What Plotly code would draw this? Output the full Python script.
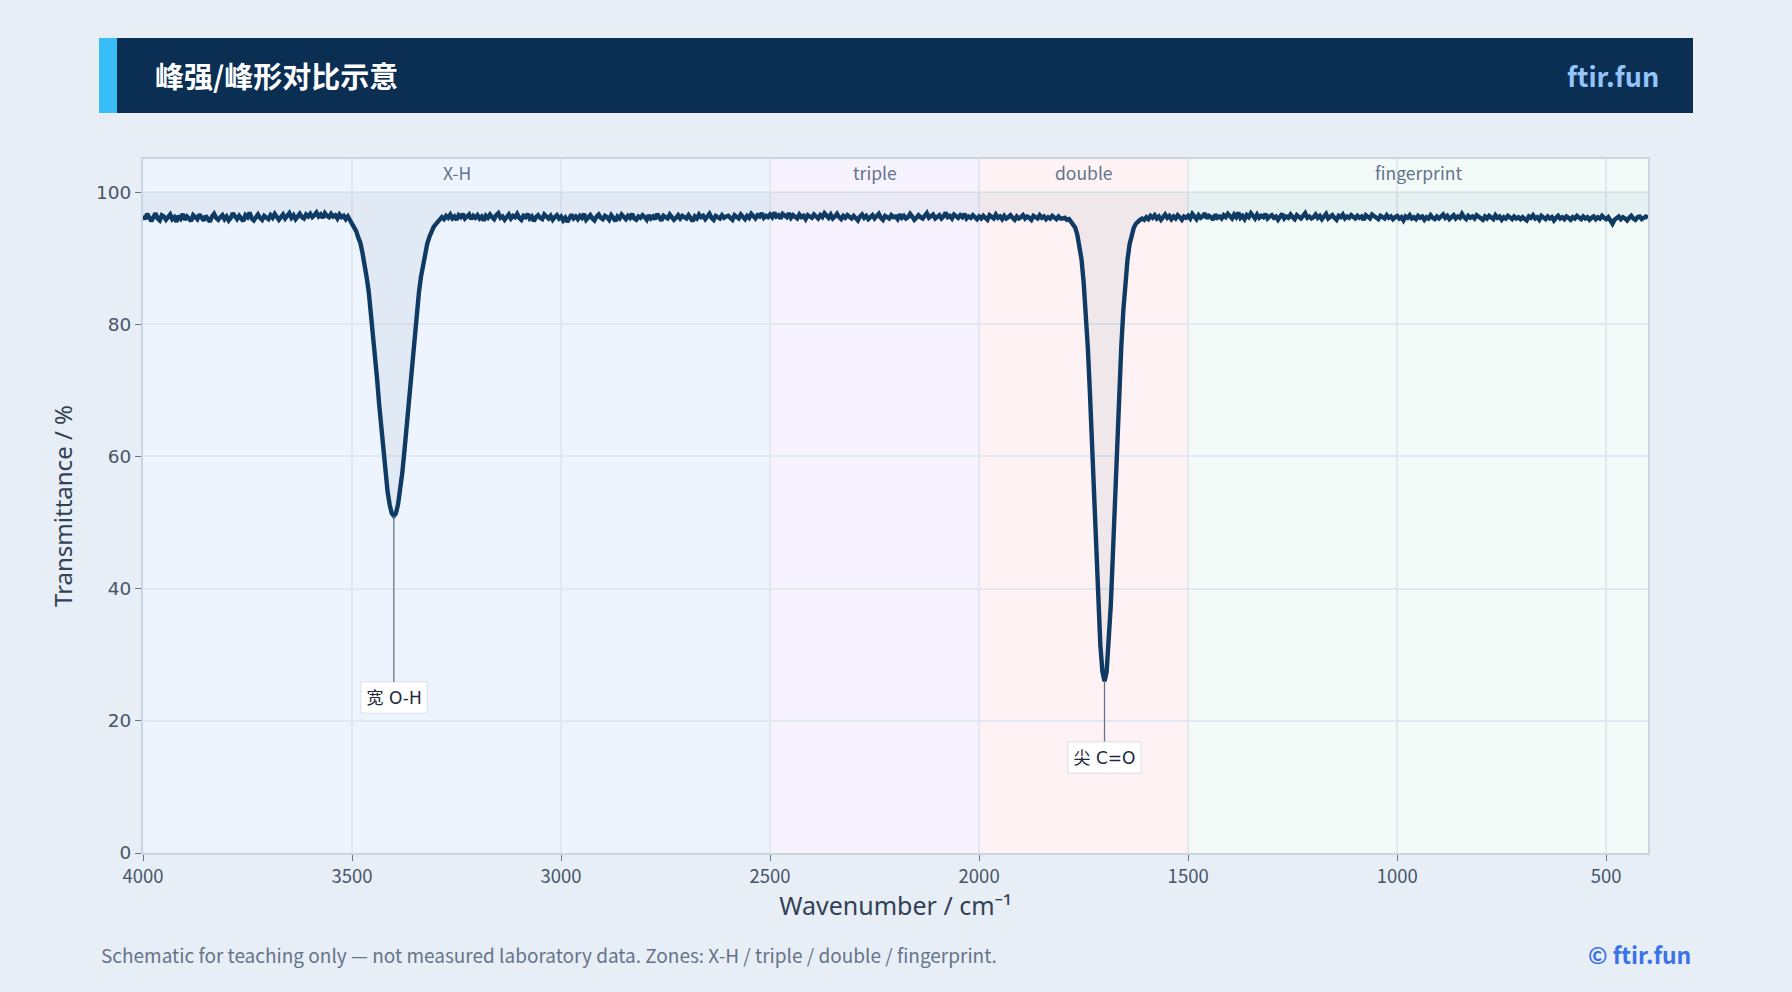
import numpy as np
import plotly.graph_objects as go

# ---------------- data ----------------
WAVENUMBER = np.arange(4000, 399, -5)  # 4000 ... 400 cm^-1, step 5

# transmittance, one block of 20 points per 100 cm^-1
T_BLOCKS = [
    # 4000-3905
    [96.4, 95.9, 96.7, 96.1, 95.6, 96.2, 96.8, 96.0, 95.7, 96.5, 96.3, 95.8, 96.1, 96.6, 95.9, 96.2, 95.5, 96.4, 96.0, 96.7],
    # 3900-3805
    [95.8, 96.3, 96.0, 95.6, 96.5, 96.2, 95.9, 96.6, 96.1, 95.7, 96.4, 96.0, 95.5, 96.3, 96.7, 96.1, 95.8, 96.2, 96.5, 95.9],
    # 3800-3705
    [96.3, 95.7, 96.1, 96.8, 96.2, 95.9, 96.4, 96.0, 95.6, 96.5, 96.2, 96.9, 96.0, 95.7, 96.3, 96.6, 96.1, 95.8, 96.4, 96.2],
    # 3700-3605
    [95.9, 96.5, 96.1, 96.7, 96.3, 95.8, 96.2, 96.6, 96.0, 96.4, 96.8, 96.1, 96.5, 95.9, 96.3, 96.7, 96.2, 96.0, 96.6, 96.3],
    # 3600-3505
    [96.7, 96.2, 96.5, 96.9, 96.3, 96.6, 96.1, 96.8, 96.4, 96.2, 96.7, 96.3, 96.5, 96.0, 96.6, 96.2, 96.4, 95.9, 96.3, 95.8],
    # 3500-3405  (broad O-H, falling edge)
    [95.1, 94.5, 94.1, 93.1, 92.3, 90.8, 89.3, 87.1, 84.9, 81.9, 78.9, 75.5, 71.7, 67.8, 64.2, 60.6, 57.4, 54.7, 52.7, 51.4],
    # 3400-3305  (broad O-H, rising edge)
    [51.0, 51.4, 52.7, 54.7, 57.4, 60.6, 64.2, 67.9, 71.7, 75.4, 78.9, 82.0, 84.8, 87.2, 89.2, 90.9, 92.2, 93.2, 94.0, 94.7],
    # 3300-3205
    [95.1, 95.5, 95.8, 96.2, 95.9, 96.4, 96.1, 96.6, 96.0, 96.3, 95.8, 96.5, 96.2, 96.7, 96.0, 96.3, 96.6, 95.9, 96.4, 96.1],
    # 3200-3105
    [96.5, 96.0, 96.3, 95.7, 96.4, 96.1, 96.6, 96.2, 95.9, 96.5, 96.8, 96.1, 96.3, 95.8, 96.2, 96.6, 96.0, 96.4, 96.2, 96.7],
    # 3100-3005
    [96.1, 95.8, 96.4, 96.2, 96.7, 96.0, 96.3, 95.6, 96.2, 96.5, 96.1, 95.9, 96.6, 96.3, 96.0, 96.4, 95.8, 96.2, 96.5, 96.0],
    # 3000-2905
    [96.3, 95.7, 96.1, 95.5, 96.2, 96.6, 96.0, 96.3, 95.9, 96.4, 96.1, 96.7, 95.8, 96.2, 96.5, 96.0, 95.7, 96.3, 96.6, 96.1],
    # 2900-2805
    [95.9, 96.4, 96.2, 95.8, 96.5, 96.1, 95.6, 96.3, 96.0, 96.6, 96.2, 95.9, 96.4, 96.1, 96.7, 96.0, 95.8, 96.3, 96.1, 96.5],
    # 2800-2705
    [96.2, 95.8, 96.5, 96.0, 96.3, 95.9, 96.7, 96.1, 95.7, 96.4, 96.2, 96.0, 96.6, 96.3, 95.8, 96.1, 96.5, 96.0, 96.4, 96.2],
    # 2700-2605
    [96.0, 96.5, 96.1, 95.6, 96.3, 96.0, 96.6, 96.2, 96.4, 95.9, 96.3, 96.7, 96.1, 95.8, 96.4, 96.2, 96.0, 96.5, 96.1, 96.3],
    # 2600-2505
    [96.4, 96.1, 95.8, 96.5, 96.2, 96.0, 96.6, 96.3, 95.9, 96.4, 96.1, 96.7, 96.2, 96.0, 96.5, 96.3, 96.8, 96.1, 96.4, 96.2],
    # 2500-2405
    [96.6, 96.2, 96.9, 96.3, 96.5, 96.0, 96.7, 96.4, 96.2, 96.8, 96.1, 96.5, 96.3, 96.0, 96.6, 96.2, 96.4, 95.9, 96.5, 96.3],
    # 2400-2305
    [96.1, 96.6, 96.3, 96.0, 96.5, 96.2, 96.8, 96.4, 96.1, 96.6, 96.0, 96.3, 96.7, 96.2, 95.9, 96.4, 96.1, 96.5, 96.3, 96.0],
    # 2300-2205
    [96.4, 96.0, 95.7, 96.3, 96.6, 96.1, 96.4, 95.9, 96.2, 96.5, 96.0, 96.3, 96.7, 96.1, 95.8, 96.4, 96.2, 96.0, 96.5, 96.2],
    # 2200-2105
    [96.3, 95.9, 96.6, 96.1, 96.4, 96.0, 96.2, 96.7, 96.3, 95.8, 96.1, 96.5, 96.2, 96.0, 96.4, 96.8, 96.1, 96.3, 96.6, 96.0],
    # 2100-2005
    [96.2, 96.5, 96.0, 96.3, 96.9, 96.2, 96.4, 96.0, 96.6, 96.3, 96.1, 96.5, 96.2, 96.7, 96.0, 96.3, 96.1, 96.5, 96.2, 95.9],
    # 2000-1905
    [96.3, 96.0, 96.4, 96.1, 95.8, 96.5, 96.2, 96.0, 96.6, 96.1, 96.3, 95.9, 96.4, 96.0, 96.2, 96.5, 96.1, 95.8, 96.3, 96.0],
    # 1900-1805
    [96.2, 96.5, 96.0, 96.3, 96.1, 95.8, 96.4, 96.2, 96.0, 96.5, 96.1, 96.3, 95.9, 96.2, 96.0, 96.4, 96.1, 95.9, 96.3, 96.0],
    # 1800-1705  (sharp C=O, falling edge)
    [96.0, 96.1, 95.8, 95.9, 95.5, 95.1, 94.6, 93.5, 92.0, 89.8, 86.4, 82.1, 76.5, 69.7, 61.9, 53.5, 45.2, 37.5, 31.4, 27.4],
    # 1700-1605  (sharp C=O, rising edge)
    [26.0, 27.4, 31.4, 37.5, 45.2, 53.5, 61.9, 69.7, 76.5, 82.1, 86.5, 89.8, 92.1, 93.6, 94.6, 95.2, 95.6, 95.8, 96.0, 95.8],
    # 1600-1505
    [96.2, 95.9, 96.4, 96.1, 96.5, 96.0, 96.3, 95.8, 96.2, 96.6, 96.1, 96.4, 95.9, 96.3, 96.0, 96.5, 96.2, 95.8, 96.3, 96.1],
    # 1500-1405
    [96.4, 96.0, 96.7, 96.2, 95.9, 96.5, 96.1, 96.3, 96.8, 96.0, 96.4, 96.2, 95.8, 96.6, 96.1, 96.3, 96.0, 96.5, 96.2, 96.7],
    # 1400-1305
    [96.3, 96.0, 96.6, 96.2, 96.9, 96.1, 96.4, 95.9, 96.5, 96.2, 96.8, 96.3, 96.0, 96.6, 96.1, 96.4, 96.2, 96.7, 96.0, 96.3],
    # 1300-1205
    [96.5, 96.1, 96.3, 95.8, 96.4, 96.7, 96.0, 96.3, 96.1, 96.6, 96.2, 95.9, 96.5, 96.3, 96.0, 96.4, 96.8, 96.1, 96.3, 96.0],
    # 1200-1105
    [96.2, 96.6, 96.1, 96.4, 95.9, 96.3, 96.7, 96.0, 96.2, 96.5, 96.1, 95.8, 96.4, 96.2, 96.6, 96.0, 96.3, 96.1, 96.5, 96.2],
    # 1100-1005
    [96.0, 96.4, 96.1, 96.3, 95.8, 96.5, 96.2, 96.0, 96.6, 96.3, 96.1, 95.9, 96.4, 96.2, 96.0, 96.5, 96.1, 96.3, 95.9, 96.2],
    # 1000-905
    [96.4, 96.0, 96.2, 95.7, 96.3, 96.1, 96.5, 96.0, 96.2, 95.9, 96.4, 96.1, 96.3, 95.8, 96.2, 96.0, 96.5, 96.1, 95.9, 96.3],
    # 900-805
    [96.0, 96.3, 96.6, 96.1, 96.4, 95.9, 96.2, 96.5, 96.0, 96.3, 96.1, 96.7, 96.2, 95.9, 96.4, 96.1, 96.3, 96.0, 96.5, 96.2],
    # 800-705
    [96.1, 95.8, 96.3, 96.0, 96.4, 96.2, 95.9, 96.5, 96.1, 96.3, 95.8, 96.2, 96.0, 96.4, 96.1, 95.9, 96.3, 96.0, 96.2, 95.9],
    # 700-605
    [96.2, 96.0, 95.7, 96.3, 96.1, 96.5, 96.0, 96.2, 95.8, 96.4, 96.1, 95.9, 96.3, 96.0, 96.2, 95.7, 96.1, 96.4, 96.0, 96.2],
    # 600-505
    [95.9, 96.3, 96.1, 95.8, 96.2, 96.0, 96.4, 96.1, 95.9, 96.3, 96.0, 96.2, 95.8, 96.1, 96.3, 95.9, 96.2, 96.0, 96.4, 96.1],
    # 500-405
    [95.9, 96.2, 95.6, 95.2, 95.8, 96.1, 96.3, 95.9, 96.2, 96.0, 95.7, 96.1, 96.4, 96.0, 95.8, 96.2, 96.3, 95.9, 96.1, 96.3],
    # 400
    [96.1],
]
for blk in T_BLOCKS[:-1]:
    assert len(blk) == 20, len(blk)
TRANSMITTANCE = [v for blk in T_BLOCKS for v in blk]
assert len(TRANSMITTANCE) == len(WAVENUMBER)

ZONE_NAMES = ["X-H", "triple", "double", "fingerprint"]
ZONE_START = [4000, 2500, 2000, 1500]
ZONE_END = [2500, 2000, 1500, 400]
ZONE_COLORS = ["rgba(59,130,246,0.085)", "rgba(139,92,246,0.07)",
               "rgba(244,63,94,0.065)", "rgba(16,185,129,0.05)"]

PEAK_LABELS = ["宽 O-H", "尖 C=O"]
PEAK_X = [3400, 1700]
PEAK_Y = [51.0, 26.0]
LABEL_Y = [23.5, 14.5]

X_TICKS = [4000, 3500, 3000, 2500, 2000, 1500, 1000, 500]
Y_TICKS = [0, 20, 40, 60, 80, 100]

# ---------------- layout geometry ----------------
W, H = 1792, 992
PL, PR, PT, PB = 143, 1648, 159, 853  # plot area pixels


def px(x):
    return (x - PL) / (PR - PL)


def py(y):
    return (PB - y) / (PB - PT)


CJK = "Noto Sans CJK SC"

fig = go.Figure()

# reference line at 100 % used as the fill boundary
fig.add_trace(go.Scatter(
    x=WAVENUMBER, y=[100] * len(WAVENUMBER), mode="lines",
    line=dict(width=0, color="rgba(0,0,0,0)"), hoverinfo="skip", showlegend=False))
fig.add_trace(go.Scatter(
    x=WAVENUMBER, y=TRANSMITTANCE, mode="lines", fill="tonexty",
    fillcolor="rgba(20,60,110,0.06)",
    line=dict(color="#0f3a63", width=4.4), showlegend=False))

shapes = []
for s, e, c in zip(ZONE_START, ZONE_END, ZONE_COLORS):
    shapes.append(dict(type="rect", xref="x", yref="paper", x0=s, x1=e, y0=0, y1=1,
                       fillcolor=c, line=dict(width=0), layer="below"))
for b in ZONE_START[1:]:
    shapes.append(dict(type="line", xref="x", yref="paper", x0=b, x1=b, y0=0, y1=1,
                       line=dict(color="rgba(203,213,225,0.6)", width=1.5), layer="below"))

# header banner
shapes.append(dict(type="rect", xref="paper", yref="paper",
                   x0=px(99), x1=px(1693), y0=py(113), y1=py(38),
                   fillcolor="#0b2e53", line=dict(width=0)))
shapes.append(dict(type="rect", xref="paper", yref="paper",
                   x0=px(99), x1=px(117), y0=py(113), y1=py(38),
                   fillcolor="#38bdf8", line=dict(width=0)))

annotations = []
for name, s, e in zip(ZONE_NAMES, ZONE_START, ZONE_END):
    annotations.append(dict(x=(s + e) / 2, y=1, xref="x", yref="paper", yanchor="middle",
                            yshift=-13, text=name, showarrow=False,
                            font=dict(family=CJK, size=17.5, color="#64748b")))

for lab, x, y, ly in zip(PEAK_LABELS, PEAK_X, PEAK_Y, LABEL_Y):
    annotations.append(dict(x=x, y=y, xref="x", yref="y", ax=x, ay=ly, axref="x", ayref="y",
                            text=lab, showarrow=True, arrowhead=0, arrowwidth=1.3,
                            arrowcolor="#64748b", standoff=0, startstandoff=0,
                            bgcolor="white", bordercolor="#e2e8f0", borderwidth=1.5,
                            borderpad=5,
                            font=dict(family="DejaVu Sans, " + CJK, size=17, color="#1e293b")))

# header texts
annotations.append(dict(x=px(153), y=py(75), xref="paper", yref="paper",
                        xanchor="left", yanchor="middle", text="<b>峰强/峰形对比示意</b>",
                        showarrow=False, font=dict(family=CJK, size=29, color="white")))
annotations.append(dict(x=px(1661), y=py(75), xref="paper", yref="paper",
                        xanchor="right", yanchor="middle", text="<b>ftir.fun</b>",
                        showarrow=False, font=dict(family=CJK, size=27, color="#93c5fd")))
# footer
annotations.append(dict(x=px(99), y=py(954), xref="paper", yref="paper",
                        xanchor="left", yanchor="middle",
                        text="Schematic for teaching only — not measured laboratory data. Zones: X-H / triple / double / fingerprint.",
                        showarrow=False, font=dict(family=CJK, size=19, color="#64748b")))
annotations.append(dict(x=px(1693), y=py(954), xref="paper", yref="paper",
                        xanchor="right", yanchor="middle", text="<b>© ftir.fun</b>",
                        showarrow=False, font=dict(family=CJK, size=23, color="#3b72e8")))

fig.update_layout(
    width=W, height=H,
    margin=dict(l=PL, r=W - PR, t=PT, b=H - PB),
    paper_bgcolor="#e8eef6", plot_bgcolor="white",
    shapes=shapes, annotations=annotations, showlegend=False,
)
fig.update_xaxes(
    range=[4000, 400], tickvals=X_TICKS, ticks="outside", ticklen=6, tickcolor="#64748b",
    tickfont=dict(family=CJK, size=18.5, color="#475569"),
    title=dict(text="Wavenumber / cm⁻¹", font=dict(family="Noto Sans", size=25, color="#334155"),
               standoff=9),
    showgrid=True, gridcolor="#e2e8f0", gridwidth=1.5, zeroline=False,
    showline=True, linecolor="#cbd5e1", linewidth=2, mirror=True,
)
fig.update_yaxes(
    range=[0, 105], tickvals=Y_TICKS, ticks="outside", ticklen=6, tickcolor="#64748b",
    tickfont=dict(family="DejaVu Sans", size=18.5, color="#475569"),
    title=dict(text="Transmittance / %", font=dict(family="Noto Sans", size=24, color="#334155"),
               standoff=17),
    showgrid=True, gridcolor="#e2e8f0", gridwidth=1.5, zeroline=False,
    showline=True, linecolor="#cbd5e1", linewidth=2, mirror=True,
)

fig.write_html("out.html")
